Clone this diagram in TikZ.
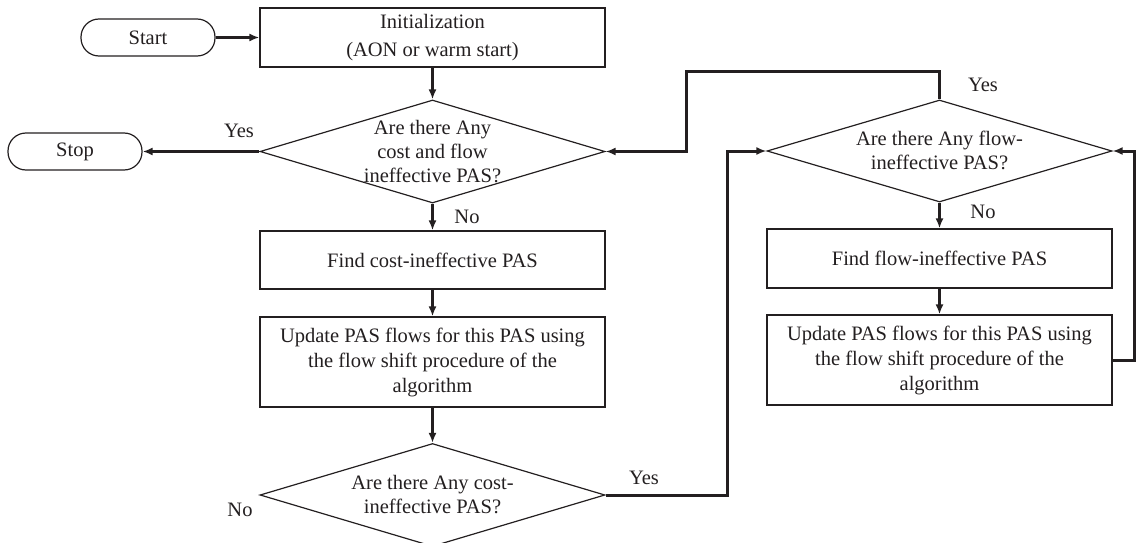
\documentclass[tikz,border=0pt]{standalone}
\usepackage{fontspec}
\setmainfont{Liberation Serif}
\usetikzlibrary{shapes.geometric,arrows.meta}
\definecolor{ink}{HTML}{231F20}
\tikzset{
  box/.style={draw=ink, line width=1.2pt, minimum width=345pt, inner sep=0pt, align=center, text=ink, font=\fontsize{20.5}{25}\selectfont},
  term/.style={draw=ink, line width=1.2pt, rounded corners=18pt, minimum width=134pt, minimum height=37pt, inner sep=0pt, text=ink, font=\fontsize{20.5}{25}\selectfont},
  dia/.style={draw=ink, line width=1.2pt, diamond, minimum width=345pt, minimum height=103pt, inner sep=0pt},
  dtext/.style={align=center, text=ink, inner sep=0pt, font=\fontsize{20.5}{24}\selectfont},
  flow/.style={draw=ink, line width=3pt, -{Latex[length=10pt,width=8pt]}},
  lbl/.style={text=ink, inner sep=0pt, font=\fontsize{20.5}{24}\selectfont}
}
\begin{document}
\begin{tikzpicture}[x=1pt,y=-1pt]
\clip (0,0) rectangle (1136,543);
\useasboundingbox (0,0) rectangle (1136,543);
% terminals
\node[term] (start) at (148,37.5) {Start};
\node[term] (stop) at (75,151.5) {Stop};
% left column
\node[box, minimum height=59pt, font=\fontsize{20.5}{28}\selectfont] (init) at (432.5,37.5) {Initialization\\(AON or warm start)};
\node[dia] (d1) at (432.5,151.5) {};
\node[dtext] (d1t) at (432.5,151.5) {Are there Any\\cost and flow\\ineffective PAS?};
\node[box, minimum height=58pt] (b1) at (432.5,260) {Find cost-ineffective PAS};
\node[box, minimum height=90pt] (b2) at (432.5,362) {Update PAS flows for this PAS using\\the flow shift procedure of the\\algorithm};
\node[dia] (d2) at (432.5,495) {};
\node[dtext] (d2t) at (432.5,494.5) {Are there Any cost-\\ineffective PAS?};
% right column
\node[dia, minimum height=102pt] (d3) at (939.5,151) {};
\node[dtext] (d3t) at (939.5,150.5) {Are there Any flow-\\ineffective PAS?};
\node[box, minimum height=59pt] (b3) at (939.5,258.5) {Find flow-ineffective PAS};
\node[box, minimum height=90pt] (b4) at (939.5,360) {Update PAS flows for this PAS using\\the flow shift procedure of the\\algorithm};
% bend points
\coordinate (p1) at (727,495);
\coordinate (p2) at (727,151);
\coordinate (q1) at (939.5,72);
\coordinate (q2) at (686,72);
\coordinate (q3) at (686,151.5);
\coordinate (r1) at (1134.5,360);
\coordinate (r2) at (1134.5,151);
% connectors
\draw[flow] (start.east) -- (init.west);
\draw[flow] (init.south) -- (d1.north);
\draw[flow] (d1.west) -- (stop.east);
\draw[flow] (d1.south) -- (b1.north);
\draw[flow] (b1.south) -- (b2.north);
\draw[flow] (b2.south) -- (d2.north);
\draw[flow] (d2.east) -- (p1) -- (p2) -- (d3.west);
\draw[flow] (d3.north) -- (q1) -- (q2) -- (q3) -- (d1.east);
\draw[flow] (d3.south) -- (b3.north);
\draw[flow] (b3.south) -- (b4.north);
\draw[flow] (b4.east) -- (r1) -- (r2) -- (d3.east);
% labels
\node[lbl] (y1) at (239,131) {Yes};
\node[lbl] (n1) at (467,217) {No};
\node[lbl] (y2) at (644,478) {Yes};
\node[lbl] (y3) at (983,85) {Yes};
\node[lbl] (n3) at (983,212) {No};
\node[lbl] (n2) at (240,510) {No};
\end{tikzpicture}
\end{document}
